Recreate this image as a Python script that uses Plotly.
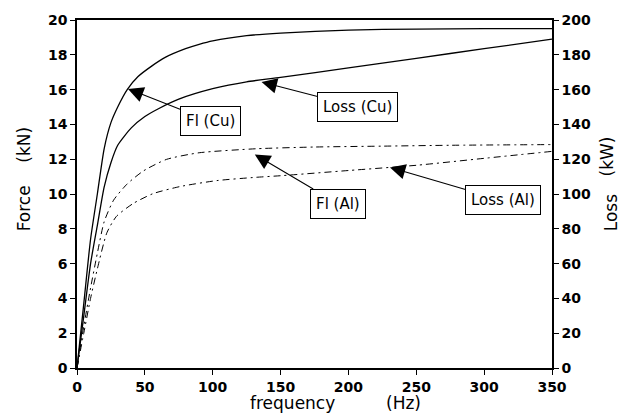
import plotly.graph_objects as go

# ---- data ----
freq_fl_cu = [0, 5, 10, 15, 20, 25, 30, 37, 45, 55, 65, 80, 90, 100, 125, 150, 200, 250, 300, 350]
fl_cu = [0, 3.7, 7.4, 10.0, 12.6, 14.1, 15.0, 16.0, 16.75, 17.35, 17.85, 18.35, 18.6, 18.8, 19.1, 19.25, 19.42, 19.48, 19.5, 19.5]

freq_loss_cu = [0, 5, 10, 15, 20, 25, 30, 40, 50, 60, 75, 100, 125, 150, 200, 250, 300, 350]
loss_cu = [0, 30, 60, 82, 104, 118, 128, 138, 144.5, 149, 154.5, 160.5, 164.5, 167, 172.5, 178, 183.5, 189]

freq_fl_al = [0, 5, 10, 15, 20, 27, 37, 49, 66, 90, 132, 175, 225, 275, 350]
fl_al = [0, 2.4, 4.6, 6.6, 8.4, 9.65, 10.58, 11.33, 11.99, 12.37, 12.6, 12.7, 12.75, 12.8, 12.84]

freq_loss_al = [0, 5, 10, 15, 22, 29, 41.5, 56, 76, 103, 132, 150, 200, 250, 300, 350]
loss_al = [0, 20, 40, 57, 77.7, 87.1, 94.6, 100.2, 104.3, 107.7, 109.6, 110.5, 113.5, 116.5, 120.5, 124.5]

x_ticks = [0, 50, 100, 150, 200, 250, 300, 350]
force_ticks = list(range(0, 21, 2))
loss_ticks = list(range(0, 201, 20))

# annotation labels: (text, tip_x, tip_y on force axis, ax, ay)
labels = [
    ("Fl (Cu)", 37.6, 16.04, 82, 32),
    ("Loss (Cu)", 136, 16.44, 96, 25),
    ("Fl (Al)", 131, 12.27, 83, 49),
    ("Loss (Al)", 230.6, 11.53, 113, 33),
]

FONT = "DejaVu Sans"

fig = go.Figure()
fig.add_trace(go.Scatter(x=freq_fl_cu, y=fl_cu, mode="lines", name="Fl (Cu)",
                         line=dict(color="black", width=1.3, shape="spline", smoothing=0.6)))
fig.add_trace(go.Scatter(x=freq_loss_cu, y=loss_cu, mode="lines", name="Loss (Cu)", yaxis="y2",
                         line=dict(color="black", width=1.3, shape="spline", smoothing=0.6)))
fig.add_trace(go.Scatter(x=freq_fl_al, y=fl_al, mode="lines", name="Fl (Al)",
                         line=dict(color="black", width=1, dash="7px,4px,2px,4px",
                                   shape="spline", smoothing=0.6)))
fig.add_trace(go.Scatter(x=freq_loss_al, y=loss_al, mode="lines", name="Loss (Al)", yaxis="y2",
                         line=dict(color="black", width=1, dash="7px,4px,2px,4px",
                                   shape="spline", smoothing=0.6)))

tickfont = dict(family=FONT, size=14, color="black")
axis_common = dict(showline=True, linecolor="black", linewidth=1.5, ticks="outside",
                   ticklen=5, tickwidth=1.2, tickcolor="black", showgrid=False,
                   zeroline=False, tickfont=tickfont)

def bold(vals):
    return ["<b>%d</b>" % v for v in vals]

fig.update_layout(
    width=634, height=419,
    margin=dict(l=77, r=82, t=13, b=51),
    paper_bgcolor="white", plot_bgcolor="white",
    showlegend=False,
    xaxis=dict(range=[0, 350], tickvals=x_ticks, ticktext=bold(x_ticks), mirror=True, **axis_common),
    yaxis=dict(range=[0, 20], tickvals=force_ticks, ticktext=bold(force_ticks), **axis_common),
    yaxis2=dict(range=[0, 200], tickvals=loss_ticks, ticktext=bold(loss_ticks),
                overlaying="y", side="right", **axis_common),
)

for text, tx, ty, ax, ay in labels:
    fig.add_annotation(x=tx, y=ty, xref="x", yref="y", text=text, showarrow=True,
                       ax=ax, ay=ay, axref="pixel", ayref="pixel",
                       arrowhead=2, arrowsize=2.8, arrowwidth=1.1, arrowcolor="black",
                       bordercolor="black", borderwidth=1, borderpad=5, bgcolor="white",
                       font=dict(family=FONT, size=15, color="black"))

# axis titles as positioned annotations
def px_x(p):
    return (p - 77) / 475.0

def px_y(p):
    return (368 - p) / 355.3

title_font = dict(family=FONT, size=17, color="black")
for text, px, py, ang in [
    ("Force", 24, 205, -90), ("(kN)", 24, 140, -90),
    ("Loss", 611, 210, -90), ("(kW)", 607, 152, -90),
    ("frequency", 292, 404, 0), ("(Hz)", 403, 404, 0),
]:
    fig.add_annotation(x=px_x(px), y=px_y(py), xref="paper", yref="paper", text=text,
                       showarrow=False, textangle=ang, font=title_font,
                       xanchor="center", yanchor="middle")

fig.write_html("out.html")
